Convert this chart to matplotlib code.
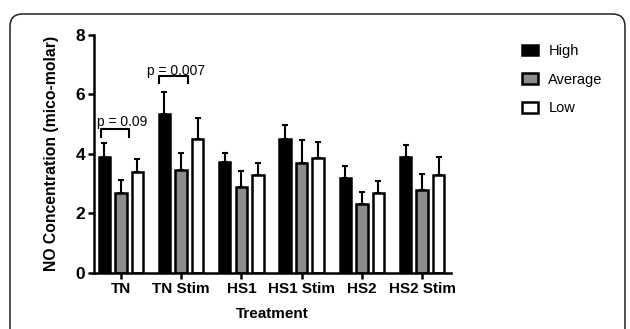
import numpy as np
import matplotlib.pyplot as plt
from matplotlib.patches import FancyBboxPatch, Patch

plt.rcParams['font.family'] = ['Liberation Sans', 'DejaVu Sans']

# DATA
treatments = ["TN", "TN Stim", "HS1", "HS1 Stim", "HS2", "HS2 Stim"]
high = [3.90, 5.35, 3.71, 4.50, 3.19, 3.88]
high_err = [0.45, 0.73, 0.33, 0.46, 0.39, 0.43]
average = [2.68, 3.45, 2.90, 3.68, 2.30, 2.79]
average_err = [0.45, 0.57, 0.53, 0.77, 0.43, 0.52]
low = [3.38, 4.50, 3.29, 3.85, 2.69, 3.28]
low_err = [0.46, 0.70, 0.41, 0.55, 0.38, 0.60]
pvals = ["p = 0.09", "p = 0.007"]


def main():
    fig = plt.figure(figsize=(6.3, 3.29), dpi=100, facecolor="white")

    # rounded frame around the figure
    frame = FancyBboxPatch((10 / 630, -0.2), 615 / 630, 1.2 - 14 / 329,
                           boxstyle="round,pad=0,rounding_size=0.02",
                           transform=fig.transFigure, fill=False,
                           edgecolor="#222222", linewidth=1.1,
                           mutation_aspect=630 / 329)
    fig.patches.append(frame)

    ax = fig.add_axes([94 / 630, 1 - 272.7 / 329, (451 - 94) / 630, (272.7 - 35) / 329])

    x = np.arange(len(treatments))
    w = 0.19
    off = 0.275
    series = [
        (high, high_err, "black", "High"),
        (average, average_err, "#8c8c8c", "Average"),
        (low, low_err, "white", "Low"),
    ]
    for i, (vals, errs, col, name) in enumerate(series):
        pos = x + (i - 1) * off
        ax.bar(pos, vals, width=w, color=col, edgecolor="black", linewidth=1.8,
               label=name, zorder=2)
        ax.errorbar(pos, vals, yerr=[np.zeros(len(errs)), errs], fmt="none",
                    ecolor="black", elinewidth=1.5, capsize=2.5, capthick=1.5, zorder=1)

    # significance brackets: (left, right, bottom, top, text x, text y)
    brackets = [(-0.332, 0.138, 4.58, 4.82, 0.02, 4.93),
                (0.64, 1.12, 6.37, 6.62, 0.922, 6.66)]
    for (xa, xb, y0, y1, tx, ty), txt in zip(brackets, pvals):
        ax.plot([xa, xa, xb, xb], [y0, y1, y1, y0], color="black", lw=1.5,
                clip_on=False)
        ax.text(tx, ty, txt, ha="center", va="baseline", fontsize=10)

    ax.set_xlim(-0.445, 5.48)
    ax.set_ylim(0, 8)
    ax.set_yticks([0, 2, 4, 6, 8])
    ax.set_xticks(x)
    ax.set_xticklabels(treatments)
    for lab in ax.get_xticklabels():
        lab.set_fontweight("bold")
        lab.set_fontsize(11)
    for lab in ax.get_yticklabels():
        lab.set_fontweight("bold")
        lab.set_fontsize(12.5)
    ax.tick_params(axis="both", width=1.8, length=4.5, pad=2)
    for s in ["top", "right"]:
        ax.spines[s].set_visible(False)
    for s in ["left", "bottom"]:
        ax.spines[s].set_linewidth(1.8)

    ax.set_xlabel("Treatment", fontsize=11, fontweight="bold", labelpad=8)
    ax.set_ylabel("NO Concentration (mico-molar)", fontsize=11.3, fontweight="bold",
                  labelpad=12)

    handles = [Patch(facecolor=c, edgecolor="black", linewidth=1.8, label=n)
               for _, _, c, n in series]
    fig.legend(handles=handles, loc="upper left", bbox_to_anchor=(509 / 630, 1 - 31 / 329),
               frameon=False, fontsize=10.5, handlelength=1.1, handleheight=0.75,
               labelspacing=1.0, handletextpad=0.7)

    fig.savefig("out.png", dpi=100)


if __name__ == "__main__":
    main()
